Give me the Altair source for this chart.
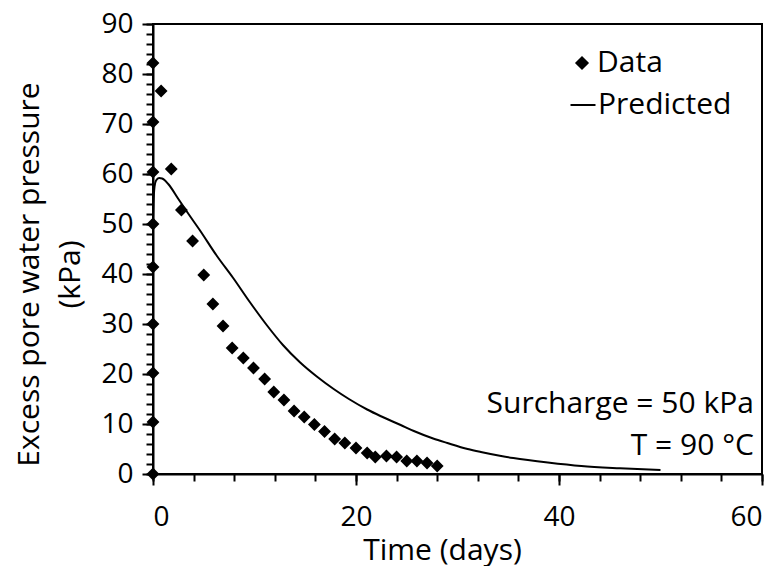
import altair as alt
import pandas as pd

# Measured data (diamonds)
data_x = [0, 0, 0, 0, 0, 0, 0, 0, 0, 0.8, 1.8, 2.8, 3.9, 5.0, 5.9, 6.9, 7.8, 8.9, 9.9,
          11.0, 11.9, 12.9, 13.9, 14.9, 15.9, 16.9, 17.9, 18.9, 20.0, 21.1, 21.9,
          23.0, 24.0, 25.0, 26.0, 27.0, 28.0]
data_y = [0, 10.4, 20.2, 30, 41.4, 50, 60.4, 70.4, 82.2, 76.6, 61, 52.8, 46.6, 39.8,
          34, 29.6, 25.2, 23.2, 21.2, 19, 16.4, 14.8, 12.6, 11.4, 9.9, 8.5, 7, 6.2,
          5.2, 4.2, 3.4, 3.6, 3.4, 2.6, 2.6, 2.2, 1.6]

# Predicted curve
pred_x = [0, 0.05, 0.15, 0.3, 0.6, 0.9, 1.5, 2.5, 3.5, 4.6, 6.3, 7.9, 9.5, 11.2, 12.8,
          14.5, 16.2, 17.8, 19.3, 21.1, 22.4, 24.4, 25.7, 27.6, 29, 31, 32.3, 34.3,
          35.5, 38.9, 42.2, 46, 50]
pred_y = [50, 54, 57.5, 58.7, 59.2, 59.1, 58, 55, 52, 48.8, 43.6, 39.2, 34.5, 29.8,
          25.8, 22.3, 19.4, 17, 15, 12.9, 11.6, 9.8, 8.6, 7.1, 6.2, 5.0, 4.4, 3.6, 3.2,
          2.3, 1.6, 1.15, 0.8]

data_name = ["Data"]
pred_name = ["Predicted"]

annot_text = ["Surcharge = 50 kPa", "T = 90 °C"]
annot_x = [59.2, 59.2]
annot_y = [12.2, 3.8]

x_major = [0, 20, 40, 60]
y_major = [0, 10, 20, 30, 40, 50, 60, 70, 80, 90]
x_minor = list(range(0, 61, 4))
y_minor = list(range(0, 91, 2))

FONT = "Open Sans"
FS = 30
TICK_FS = 28

df_data = pd.DataFrame({"t": data_x, "u": data_y, "series": data_name[0]})
df_pred = pd.DataFrame({"t": pred_x, "u": pred_y, "model": pred_name[0]})
df_annot = pd.DataFrame({"t": annot_x, "u": annot_y, "label": annot_text})

x_scale = alt.Scale(domain=[0, 60], nice=False)
y_scale = alt.Scale(domain=[0, 90], nice=False)

x_axis = alt.Axis(
    orient="bottom",
    values=x_major,
    tickSize=11,
    labelFontSize=TICK_FS,
    title="Time (days)",
    titleFontSize=30,
    titleX=289,
    titleY=85,
    titleAlign="center",
    titleBaseline="alphabetic",
    labelPadding=18,
)
y_axis = alt.Axis(
    orient="left",
    values=y_major,
    tickSize=11,
    labelFontSize=TICK_FS,
    title=["Excess pore water pressure", "(kPa)"],
    titleAngle=-90,
    titleX=-139,
    titleY=250,
    titleAlign="center",
    titleBaseline="top",
    titleLineHeight=41,
    labelPadding=9,
)
x_minor_axis = alt.Axis(orient="bottom", values=x_minor, tickSize=7, labels=False,
                        domain=False, title=None)
y_minor_axis = alt.Axis(orient="left", values=y_minor, tickSize=7, labels=False,
                        domain=False, title=None)

minor = alt.Chart(df_pred).mark_point(opacity=0).encode(
    x=alt.X("t:Q", scale=x_scale, axis=x_minor_axis),
    y=alt.Y("u:Q", scale=y_scale, axis=y_minor_axis),
)

points = alt.Chart(df_data).mark_point(
    filled=True, fill="black", stroke="black", strokeWidth=2, size=100, opacity=1
).encode(
    x=alt.X("t:Q", scale=x_scale, axis=x_axis),
    y=alt.Y("u:Q", scale=y_scale, axis=y_axis),
    shape=alt.Shape(
        "series:N",
        scale=alt.Scale(domain=data_name, range=["diamond"]),
        legend=alt.Legend(
            title=None,
            orient="none",
            legendX=414,
            legendY=24,
            padding=0,
            labelOffset=0,
            symbolSize=144,
            labelFont=FONT,
            labelFontSize=FS,
            labelColor="black",
            symbolFillColor="black",
            symbolOpacity=1,
        ),
    ),
)

line = alt.Chart(df_pred).mark_line(strokeWidth=2, interpolate="monotone").encode(
    x=alt.X("t:Q", scale=x_scale, axis=None),
    y=alt.Y("u:Q", scale=y_scale, axis=None),
    color=alt.Color(
        "model:N",
        scale=alt.Scale(domain=pred_name, range=["black"]),
        legend=alt.Legend(
            title=None,
            orient="none",
            legendX=415,
            legendY=66,
            padding=0,
            labelOffset=0,
            symbolType="stroke",
            symbolSize=625,
            symbolStrokeWidth=2,
            labelFont=FONT,
            labelFontSize=FS,
            labelColor="black",
        ),
    ),
)

annot = alt.Chart(df_annot).mark_text(
    align="right", baseline="alphabetic", font=FONT, fontSize=FS, color="black"
).encode(
    x=alt.X("t:Q", scale=x_scale, axis=None),
    y=alt.Y("u:Q", scale=y_scale, axis=None),
    text="label:N",
)

chart = alt.layer(minor, line, points, annot).resolve_axis(
    x="independent", y="independent"
).properties(
    width=609,
    height=450,
    background="white",
    autosize=alt.AutoSizeParams(type="none"),
    padding={"left": 145, "top": 16, "right": 8, "bottom": 92},
).configure_view(
    stroke="black", strokeWidth=2
).configure_axis(
    grid=False,
    domainColor="black",
    domainWidth=2,
    tickColor="black",
    tickWidth=2,
    labelFont=FONT,
    labelColor="black",
    titleFont=FONT,
    titleFontSize=30,
    titleFontWeight="normal",
    titleColor="black",
)

chart.save("out.html", embed_options={"renderer": "svg", "actions": False})
